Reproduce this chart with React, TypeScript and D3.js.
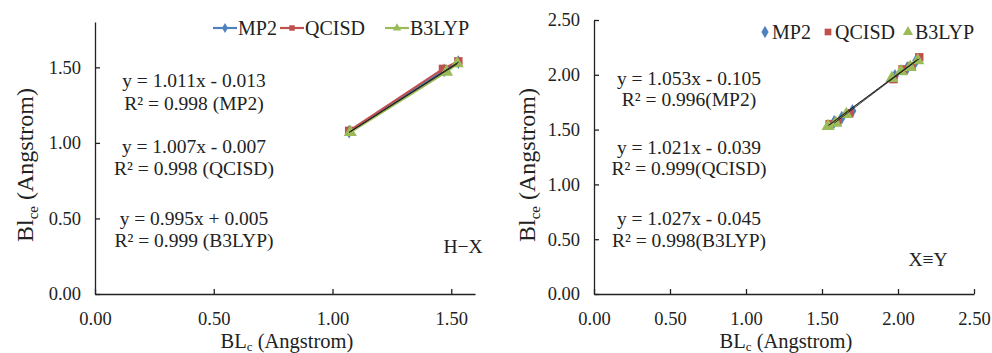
import React, { useEffect, useRef } from 'react';
import * as d3 from 'd3';

const FONT = '"Liberation Serif", "Times New Roman", serif';

const methods = ['MP2', 'QCISD', 'B3LYP'];
const colors = ['#4F81BD', '#C0504D', '#9BBB59'];

// H–X bond lengths (calc vs ce)
const hxMp2X = [1.07, 1.47, 1.53];
const hxMp2Y = [1.075, 1.48, 1.535];
const hxQcisdX = [1.07, 1.465, 1.53];
const hxQcisdY = [1.08, 1.49, 1.54];
const hxB3lypX = [1.075, 1.48, 1.525];
const hxB3lypY = [1.07, 1.47, 1.525];
const hxSlopes = [1.011, 1.007, 0.995];
const hxIntercepts = [-0.013, -0.007, 0.005];
const hxR2 = [0.998, 0.998, 0.999];
const hxXTicks = [0, 0.5, 1, 1.5];
const hxYTicks = [0, 0.5, 1, 1.5];

// X≡Y bond lengths
const xyMp2X = [1.58, 1.63, 1.7, 1.98, 2.06, 2.12];
const xyMp2Y = [1.57, 1.61, 1.67, 1.99, 2.06, 2.13];
const xyQcisdX = [1.55, 1.6, 1.68, 1.97, 2.03, 2.09, 2.14];
const xyQcisdY = [1.55, 1.57, 1.65, 1.96, 2.05, 2.08, 2.16];
const xyB3lypX = [1.54, 1.59, 1.66, 1.96, 2.02, 2.08, 2.13];
const xyB3lypY = [1.53, 1.56, 1.64, 1.97, 2.03, 2.07, 2.13];
const xySlopes = [1.053, 1.021, 1.027];
const xyIntercepts = [-0.105, -0.039, -0.045];
const xyR2 = [0.996, 0.999, 0.998];
const xyTicks = [0, 0.5, 1, 1.5, 2, 2.5];

const symbols = [d3.symbolDiamond, d3.symbolSquare, d3.symbolTriangle];
const symSizes = [55, 70, 75];

const fmt = d3.format('.2f');
const eqText = (s, b) => `y = ${s.toFixed(3)}x ${b < 0 ? '-' : '+'} ${Math.abs(b).toFixed(3)}`;

function Panel({ left, right, top, bottom, xMax, yMax, xTicks, yTicks, xs, ys, slopes, intercepts, r2, r2Gap,
  lines, eqX, eqYs, tag, tagX, tagY, legendY, legendPos, ylabX }) {
  const xRef = useRef(null);
  const yRef = useRef(null);
  const x = d3.scaleLinear().domain([0, xMax]).range([left, right]);
  const y = d3.scaleLinear().domain([0, yMax]).range([bottom, top]);

  useEffect(() => {
    const gx = d3.select(xRef.current);
    gx.call(d3.axisBottom(x).tickValues(xTicks).tickFormat(fmt).tickSizeInner(-5).tickSizeOuter(0).tickPadding(18));
    gx.attr('font-family', FONT).attr('font-size', 18.5);
    gx.select('.domain').attr('stroke', '#222').attr('stroke-width', 1.3);
    gx.selectAll('.tick line').attr('stroke', '#222').attr('stroke-width', 1.3);
    gx.selectAll('.tick text').attr('fill', '#222');

    const gy = d3.select(yRef.current);
    gy.call(d3.axisLeft(y).tickValues(yTicks).tickFormat(fmt).tickSizeInner(-5).tickSizeOuter(0).tickPadding(14));
    gy.attr('font-family', FONT).attr('font-size', 18.5);
    gy.select('.domain').attr('stroke', '#222').attr('stroke-width', 1.3);
    gy.selectAll('.tick line').attr('stroke', '#222').attr('stroke-width', 1.3);
    gy.selectAll('.tick text').attr('fill', '#222');
  }, []);

  const line = d3.line().x(d => x(d[0])).y(d => y(d[1]));

  return (
    <g>
      {lines && xs.map((sx, i) => (
        <path key={'l' + i} d={line(sx.map((v, j) => [v, ys[i][j]]))} fill="none" stroke={colors[i]} strokeWidth={2.2} />
      ))}
      {xs.map((sx, i) => sx.map((v, j) => (
        <path key={'m' + i + '-' + j} transform={`translate(${x(v)},${y(ys[i][j])})`}
          d={d3.symbol(symbols[i], symSizes[i])()} fill={colors[i]} />
      )))}
      {xs.map((sx, i) => {
        const [a, b] = d3.extent(sx);
        return <line key={'t' + i} x1={x(a)} x2={x(b)} y1={y(slopes[i] * a + intercepts[i])} y2={y(slopes[i] * b + intercepts[i])}
          stroke="#222" strokeWidth={1} opacity={0.85} />;
      })}
      <g ref={xRef} transform={`translate(0,${bottom})`} />
      <g ref={yRef} transform={`translate(${left},0)`} />

      <g fontFamily={FONT} fontSize={19.5} fill="#222" textAnchor="middle">
        {methods.map((m, i) => (
          <g key={'e' + m}>
            <text x={eqX} y={eqYs[i * 2]} dy="0.35em">{eqText(slopes[i], intercepts[i])}</text>
            <text x={eqX} y={eqYs[i * 2 + 1]} dy="0.35em">{`R² = ${r2[i].toFixed(3)}${r2Gap}(${m})`}</text>
          </g>
        ))}
        <text x={tagX} y={tagY} dy="0.35em">{tag}</text>
      </g>

      <g fontFamily={FONT} fontSize={20} fill="#222">
        {methods.map((m, i) => (
          <g key={'lg' + m} transform={`translate(${legendPos[i]},${legendY})`}>
            {lines && <line x1={-12} x2={12} y1={0} y2={0} stroke={colors[i]} strokeWidth={2.2} />}
            <path d={d3.symbol(symbols[i], lines ? 30 : 45)()} fill={colors[i]} />
            <text x={lines ? 13 : 7} y={0} dy="0.35em">{m}</text>
          </g>
        ))}
      </g>

      <text x={(left + right) / 2 + 2} y={347.5} fontFamily={FONT} fontSize={20.5} fill="#222" textAnchor="middle">
        BL<tspan fontSize={13} dy={3}>c</tspan><tspan dy={-3}> (Angstrom)</tspan>
      </text>
      <text transform={`translate(${ylabX},${165}) rotate(-90)`} fontFamily={FONT} fontSize={24} fill="#222" textAnchor="middle">
        Bl<tspan fontSize={15} dy={5}>ce</tspan><tspan dy={-5}> (Angstrom)</tspan>
      </text>
    </g>
  );
}

export default function App() {
  useEffect(() => {
    document.body.style.margin = '0';
  }, []);
  return (
    <svg width={992} height={353} style={{ display: 'block', background: '#fff' }}>
      <Panel left={95} right={475} top={22} bottom={294} xMax={1.6} yMax={1.8}
        xTicks={hxXTicks} yTicks={hxYTicks}
        xs={[hxMp2X, hxQcisdX, hxB3lypX]} ys={[hxMp2Y, hxQcisdY, hxB3lypY]}
        slopes={hxSlopes} intercepts={hxIntercepts} r2={hxR2} r2Gap=" " lines={true}
        eqX={194} eqYs={[80, 103, 146, 168, 218, 240]} tag="H−X" tagX={463} tagY={246}
        legendY={28} legendPos={[225, 292, 397]} ylabX={33} />
      <Panel left={594} right={974} top={20} bottom={294} xMax={2.5} yMax={2.5}
        xTicks={xyTicks} yTicks={xyTicks}
        xs={[xyMp2X, xyQcisdX, xyB3lypX]} ys={[xyMp2Y, xyQcisdY, xyB3lypY]}
        slopes={xySlopes} intercepts={xyIntercepts} r2={xyR2} r2Gap="" lines={false}
        eqX={689} eqYs={[78, 99, 147, 168, 218, 240]} tag="X≡Y" tagX={928} tagY={259}
        legendY={32} legendPos={[765, 828, 908]} ylabX={535} />
    </svg>
  );
}
